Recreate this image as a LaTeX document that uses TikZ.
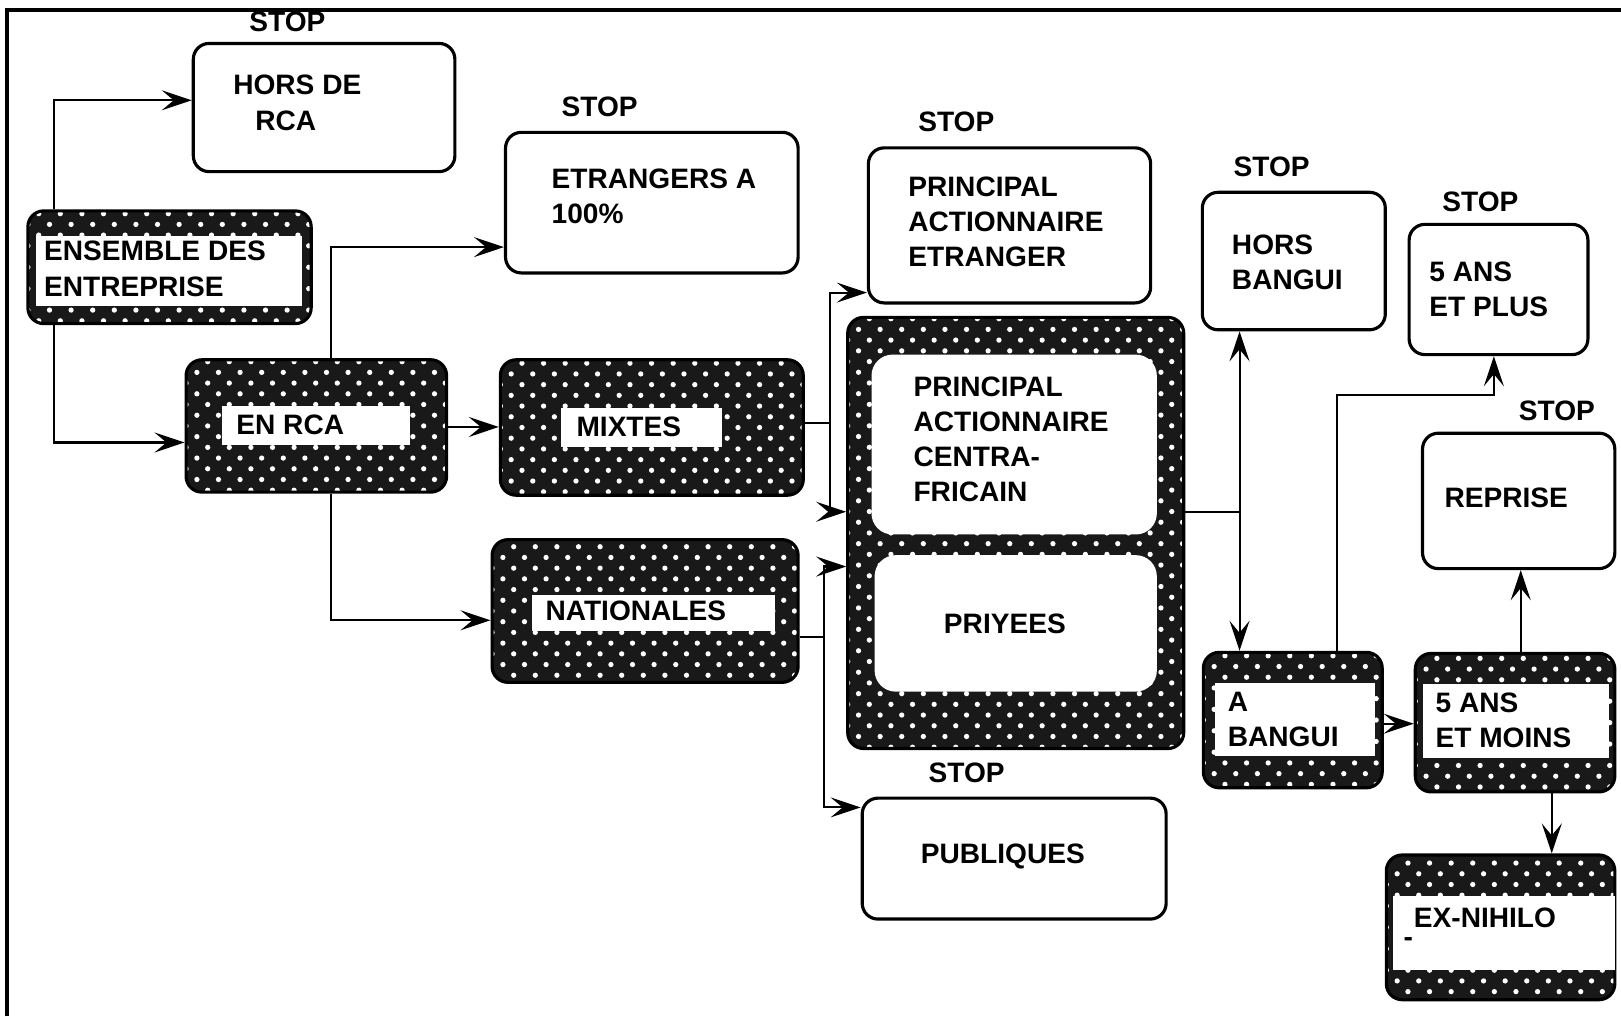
\documentclass[tikz,border=0pt]{standalone}
\usepackage{fontspec}
\setmainfont{Liberation Sans}
\usetikzlibrary{arrows.meta,fit}
\newcommand\wdots{%
  \pgfpointanchor{path picture bounding box}{south west}\pgfgetlastxy{\dxa}{\dya}%
  \pgfpointanchor{path picture bounding box}{north east}\pgfgetlastxy{\dxb}{\dyb}%
  \pgfmathtruncatemacro\ia{floor(\dxa/6.15)-1}%
  \pgfmathtruncatemacro\ib{ceil(\dxb/6.15)+1}%
  \pgfmathtruncatemacro\ja{floor(\dya/3.05)-1}%
  \pgfmathtruncatemacro\jb{ceil(\dyb/3.05)+1}%
  \foreach \j in {\ja,...,\jb}{%
    \foreach \i in {\ia,...,\ib}{%
      \pgfmathsetmacro\xx{\i*6.15+mod(abs(\j),2)*3.075}%
      \pgfmathsetmacro\yy{\j*3.05}%
      \fill[white] (\xx pt,\yy pt) circle (0.75pt);}}}
\begin{document}
\begin{tikzpicture}[x=0.010338cm,y=-0.010338cm,
  font=\fontsize{8}{10}\selectfont\bfseries,
  wbox/.style={draw,line width=0.9pt,rounded corners=4.5pt,inner sep=0pt},
  dbox/.style={draw,line width=0.9pt,rounded corners=4.5pt,inner sep=0pt,fill=black!90,path picture={\wdots}},
  wlab/.style={fill=white,inner sep=0pt},
  wpanel/.style={fill=white,inner sep=0pt,rounded corners=6pt},
  txt/.style={inner sep=0pt,anchor=west,align=left},
  ctxt/.style={inner sep=0pt},
  conn/.style={line width=0.6pt},
  arr/.style={conn,-{Stealth[length=0.3cm,width=0.2cm,inset=0.12cm]}}]
\useasboundingbox (0,0) rectangle (1568,983);
% frame
\coordinate (fbl) at (7,983);
\coordinate (ftl) at (7,10);
\coordinate (ftr) at (1568,10);
\draw[line width=1.1pt] (fbl) -- (ftl) -- (ftr);

% white boxes
\node[wbox,fit={(187,42) (440,166)}] (horsrca) {};
\node[wbox,fit={(489,128) (772,264)}] (etr100) {};
\node[wbox,fit={(840,143) (1113,293)}] (paetr) {};
\node[wbox,fit={(834,772) (1128,889)}] (publ) {};
\node[wbox,fit={(1163,186) (1340,319)}] (horsbangui) {};
\node[wbox,fit={(1363,217) (1536,343)}] (plus5) {};
\node[wbox,fit={(1376,419) (1562,550)}] (reprise) {};

% dotted boxes
\node[dbox,fit={(27,204) (301,313)}] (ens) {};
\node[wlab,fit={(35,228) (292,296)}] (ensin) {};
\node[dbox,fit={(180,348) (432,476)}] (enrca) {};
\node[wlab,fit={(215,393) (397,430)}] (enrcain) {};
\node[dbox,fit={(484,348) (777,479)}] (mixtes) {};
\node[wlab,fit={(543,395) (698,432)}] (mixtesin) {};
\node[dbox,fit={(476,522) (772,660)}] (nat) {};
\node[wlab,fit={(515,576) (750,610)}] (natin) {};
\node[dbox,fit={(820,307) (1145,724)}] (big) {};
\node[wpanel,fit={(843,343) (1119,517)}] (pacen) {};
\node[wpanel,fit={(846,537) (1119,669)}] (priv) {};
\node[dbox,fit={(1164,631) (1337,762)}] (abangui) {};
\node[wlab,fit={(1175,661) (1330,731)}] (abanguiin) {};
\node[dbox,fit={(1369,632) (1562,766)}] (moins5) {};
\node[wlab,fit={(1376,662) (1556,733)}] (moins5in) {};
\node[dbox,fit={(1341,827) (1562,967)}] (exnih) {};
\node[wlab,fit={(1347,867) (1562,938)}] (exnihin) {};

% texts
\node[ctxt] (s1) at (278,21) {STOP};
\node[ctxt] (s2) at (580,103) {STOP};
\node[ctxt] (s3) at (925,118) {STOP};
\node[ctxt] (s4) at (1230,161) {STOP};
\node[ctxt] (s5) at (1432,195) {STOP};
\node[ctxt] (s6) at (1506,397) {STOP};
\node[ctxt] (s7) at (935,748) {STOP};
\node[txt] (t1) at (225,99.5) {HORS DE\\\hspace*{0.22cm}RCA};
\node[txt] (t2) at (533,189.5) {ETRANGERS A\\100\%};
\node[txt] (t3) at (42,260) {ENSEMBLE DES\\ENTREPRISE};
\node[txt] (t4) at (228,411) {EN RCA};
\node[txt] (t5) at (557,413) {MIXTES};
\node[txt] (t6) at (527,591) {NATIONALES};
\node[txt] (t7) at (878,214.5) {PRINCIPAL\\ACTIONNAIRE\\ETRANGER};
\node[txt] (t8) at (883,425) {PRINCIPAL\\ACTIONNAIRE\\CENTRA-\\FRICAIN};
\node[ctxt] (t9) at (972,603) {PRIYEES};
\node[ctxt] (t10) at (970,828) {PUBLIQUES};
\node[txt] (t11) at (1191,254) {HORS\\BANGUI};
\node[txt] (t12) at (1382,279.5) {5 ANS\\ET PLUS};
\node[ctxt] (t13) at (1457,482) {REPRISE};
\node[txt] (t14) at (1187,695.5) {A\\BANGUI};
\node[txt] (t15) at (1388,696.5) {5 ANS\\ET MOINS};
\node[txt] (t16) at (1367,888) {EX-NIHILO};
\node[txt] (t17) at (1357,911) {-};

% connectors
\coordinate (k1) at (52,97);
\draw[arr] (k1 |- ens.north) -- (k1) -- (k1 -| horsrca.west);
\coordinate (k2) at (52,428);
\draw[arr] (k2 |- ens.south) -- (k2) -- (k2 -| enrca.west);
\coordinate (k3) at (320,239);
\draw[arr] (k3 |- enrca.north) -- (k3) -- (k3 -| etr100.west);
\coordinate (k4) at (0,413);
\draw[arr] (k4 -| enrca.east) -- (k4 -| mixtes.west);
\coordinate (k5) at (320,600);
\draw[arr] (k5 |- enrca.south) -- (k5) -- (k5 -| nat.west);
\coordinate (k6) at (803,409);
\coordinate (k7) at (803,283);
\coordinate (k8) at (803,495);
\draw[conn] (k6 -| mixtes.east) -- (k6);
\draw[arr] (k6) -- (k7) -- (k7 -| paetr.west);
\draw[arr] (k6) -- (k8) -- (k8 -| big.west);
\coordinate (k9) at (797,616);
\coordinate (k10) at (797,548);
\coordinate (k11) at (797,781);
\draw[conn] (k9 -| nat.east) -- (k9);
\draw[arr] (k9) -- (k10) -- (k10 -| big.west);
\draw[arr] (k9) -- (k11) -- (k11 -| publ.west);
\coordinate (k12) at (1199,495);
\draw[conn] (k12 -| big.east) -- (k12);
\draw[arr] (k12) -- (k12 |- horsbangui.south);
\draw[arr] (k12) -- (k12 |- abangui.north);
\coordinate (k13) at (1293,382);
\coordinate (k14) at (1445,382);
\draw[arr] (k13 |- abangui.north) -- (k13) -- (k14) -- (k14 |- plus5.south);
\coordinate (k15) at (0,700);
\draw[arr] (k15 -| abangui.east) -- (k15 -| moins5.west);
\coordinate (k16) at (1471,0);
\draw[arr] (k16 |- moins5.north) -- (k16 |- reprise.south);
\coordinate (k17) at (1501,0);
\draw[arr] (k17 |- moins5.south) -- (k17 |- exnih.north);
\end{tikzpicture}
\end{document}
